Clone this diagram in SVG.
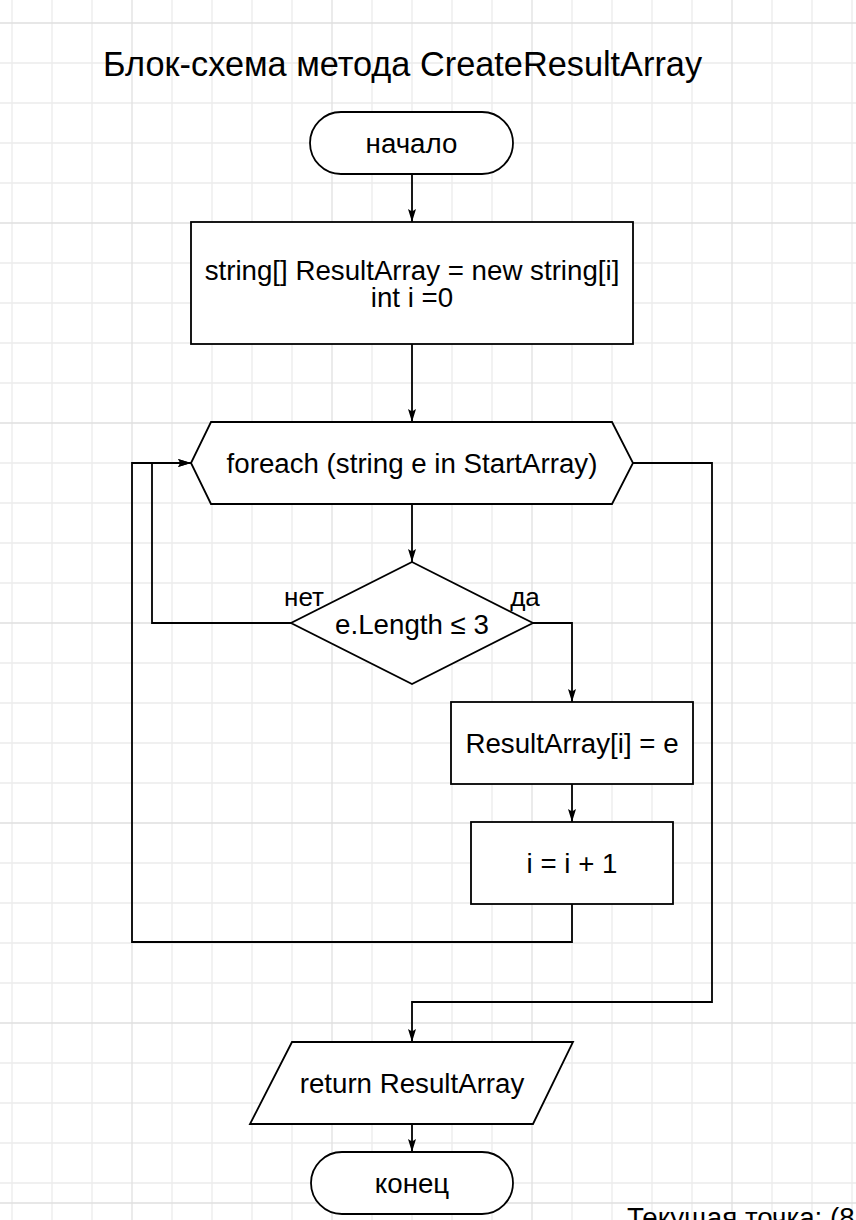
<svg xmlns="http://www.w3.org/2000/svg" width="856" height="1220" viewBox="0 0 856 1220">
<style>
.grid{stroke:#ececec;stroke-width:1.3;fill:none}
.gridm{stroke:#e0e0e0;stroke-width:1.3;fill:none}
.node{fill:#fff;stroke:#000;stroke-width:1.8}
.edge{fill:none;stroke:#000;stroke-width:1.8;marker-end:url(#arr)}
text{font-family:"Liberation Sans",Arial,sans-serif;fill:#000}
.t{font-size:27.7px;text-anchor:middle}
.lbl{font-size:26px;text-anchor:middle}
</style>
<defs>
<marker id="arr" markerUnits="userSpaceOnUse" markerWidth="14" markerHeight="9" refX="13" refY="4" orient="auto">
<path d="M0,0 L13,4 L0,8 L2.5,4 z" fill="#000"/>
</marker>
</defs>
<rect width="856" height="1220" fill="#fff"/>
<g id="grid">
<path class="grid" d="M12,0V1220M52,0V1220M92,0V1220M172,0V1220M212,0V1220M252,0V1220M292,0V1220M372,0V1220M412,0V1220M452,0V1220M492,0V1220M572,0V1220M612,0V1220M652,0V1220M692,0V1220M772,0V1220M812,0V1220M852,0V1220
M0,63H856M0,103H856M0,143H856M0,183H856M0,263H856M0,303H856M0,343H856M0,383H856M0,463H856M0,503H856M0,543H856M0,583H856M0,663H856M0,703H856M0,743H856M0,783H856M0,863H856M0,903H856M0,943H856M0,983H856M0,1063H856M0,1103H856M0,1143H856M0,1183H856"/>
<path class="gridm" d="M132,0V1220M332,0V1220M532,0V1220M732,0V1220M0,23H856M0,223H856M0,423H856M0,623H856M0,823H856M0,1023H856M0,1203H856"/>
</g>
<text id="title" x="103" y="76" style="font-size:34.3px">Блок-схема метода CreateResultArray</text>
<g id="connectors">
<path class="edge" d="M412,174V222"/>
<path class="edge" d="M412,344V422"/>
<path class="edge" d="M412,504V562"/>
<path class="edge" d="M291,623H152V463H191"/>
<path class="edge" d="M533,623H572V702"/>
<path class="edge" d="M572,784V822"/>
<path class="edge" d="M572,904V942H132V463H191"/>
<path class="edge" d="M633,463H712V1002H412V1042"/>
<path class="edge" d="M412,1124V1152"/>
<text class="lbl" x="304" y="606">нет</text>
<text class="lbl" x="525" y="606">да</text>
</g>
<g id="start">
<rect class="node" x="310" y="112" width="203" height="62" rx="31" ry="31"/>
<text class="t" x="411.5" y="153">начало</text>
</g>
<g id="init">
<rect class="node" x="191" y="222" width="442" height="122"/>
<text class="t" x="412" y="280">string[] ResultArray = new string[i]</text>
<text class="t" x="412" y="307">int i =0</text>
</g>
<g id="loop">
<polygon class="node" points="211,422 612,422 633,463 612,504 211,504 191,463"/>
<text class="t" x="412" y="473">foreach (string e in StartArray)</text>
</g>
<g id="cond">
<polygon class="node" points="412,562 533,623 412,684 291,623"/>
<text class="t" x="412" y="634">e.Length ≤ 3</text>
</g>
<g id="assign">
<rect class="node" x="451" y="702" width="242" height="82"/>
<text class="t" x="572" y="753">ResultArray[i] = e</text>
</g>
<g id="incr">
<rect class="node" x="471" y="822" width="202" height="82"/>
<text class="t" x="572" y="873">i = i + 1</text>
</g>
<g id="ret">
<polygon class="node" points="292,1042 573,1042 533,1124 250,1124"/>
<text class="t" x="412" y="1093">return ResultArray</text>
</g>
<g id="end">
<rect class="node" x="311" y="1152" width="202" height="62" rx="31" ry="31"/>
<text class="t" x="412" y="1193">конец</text>
</g>
<text id="status" x="627" y="1227" style="font-size:27.7px">Текущая точка: (8</text>
</svg>
